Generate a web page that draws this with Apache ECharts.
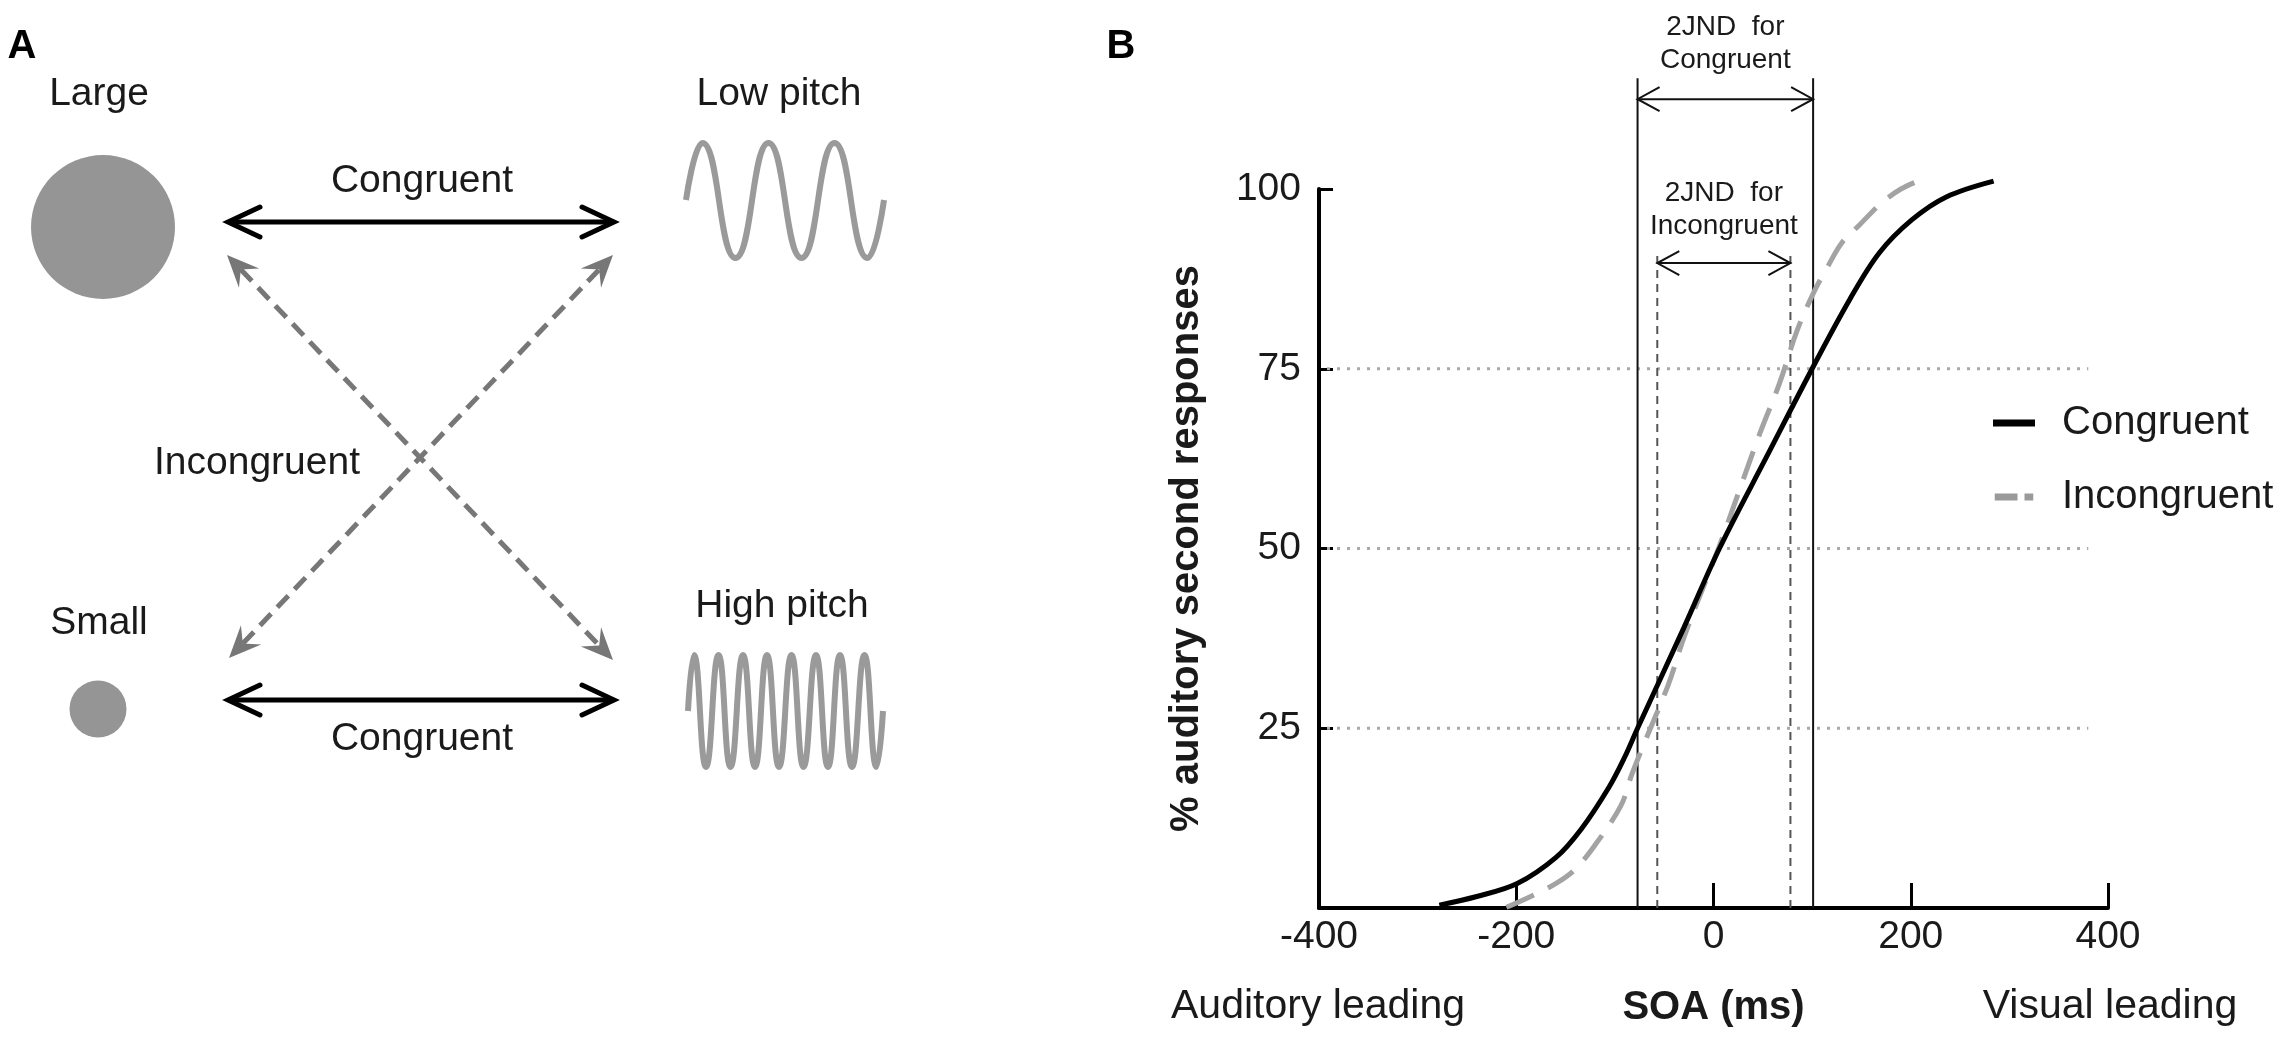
<!DOCTYPE html>
<html>
<head>
<meta charset="utf-8">
<title>Congruent vs incongruent audiovisual pairs</title>
<script src="https://cdn.jsdelivr.net/npm/echarts@6/dist/echarts.min.js"></script>
<style>
  html, body { margin: 0; padding: 0; background: #fff; }
  #chart { width: 2294px; height: 1053px; }
</style>
</head>
<body>
<div id="chart"></div>
<script>
// ---- panel B: psychometric curves (SOA in ms, % auditory-second responses) ----
const soaTicks = [-400, -200, 0, 200, 400];
const pctTicks = [25, 50, 75, 100];

const congruentSOA = [-278, -240, -199, -160, -134, -106, -90, -77, -30, 6, 54, 100, 138, 168, 201, 236, 284];
const congruentPct = [0.4, 1.6, 3.4, 7, 11, 16.8, 21, 25, 39, 50, 62.8, 75, 84.6, 91.1, 95.7, 98.9, 101.1];

const incongruentSOA = [-210, -187, -160, -141, -121, -94, -83, -70, -46, -29, 5, 26, 47, 67, 85, 103, 115, 130, 148, 170, 190, 211];
const incongruentPct = [0.1, 1.5, 3.4, 5.3, 8.6, 14.2, 18.5, 23, 31, 38, 50, 58, 66, 73, 80.4, 86, 89, 92.5, 95, 98, 100, 101.3];

// reference levels (dotted) and where they stop on the SOA axis
const gridLevels = [25, 50, 75];
const gridLineEnd = 380;

// 2JND brackets: 25% and 75% points of each curve
const jndLabels = ['2JND  for\nCongruent', '2JND  for\nIncongruent'];
const jndLeft = [-77, -57];
const jndRight = [101, 78];
const jndArrowAt = [112.5, 89.7];
const jndLineTop = [115.4, 91.5];
const jndTextAt = [120.2, 97.1];

// ---- panel A: schematic (drawn on a hidden 1:1 pixel grid) ----
const diagramLabels = ['Large', 'Low pitch', 'Congruent', 'Incongruent', 'Small', 'High pitch', 'Congruent'];
const diagramLabelX = [99, 779, 422, 257, 99, 782, 422];
const diagramLabelY = [94, 94, 181, 463, 623, 606, 739];

const circles = [[103, 227, 144], [98, 709, 57]];

// [x1, y1, x2, y2, dashed]
const diagramArrows = [
  [228, 222, 614, 222, 0],
  [228, 700, 614, 700, 0],
  [227, 255, 613, 660, 1],
  [229, 658, 613, 255, 1]
];

const lowPitchWave = [
  [686, 200], [702.5, 143], [735.5, 258], [768.5, 143], [801.5, 258],
  [834.5, 143], [867.5, 258], [884, 200]
];
const highPitchWave = [
  [688, 711], [694, 655], [706, 767], [718.5, 655], [730.5, 767], [743, 655], [755, 767],
  [767, 655], [779, 767], [791.5, 655], [803.5, 767], [816, 655], [828, 767],
  [840, 655], [852, 767], [864.5, 655], [876.5, 767], [883, 711]
];

const FONT = "'Liberation Sans', Arial, sans-serif";
const INK = '#1a1a1a';

function unit(a, b) {
  const dx = b[0] - a[0], dy = b[1] - a[1];
  const d = Math.hypot(dx, dy) || 1;
  return [dx / d, dy / d];
}

// three points of an arrow head whose tip is at `tip`, pointing along u
function headPoints(tip, u, len, half) {
  const bx = tip[0] - u[0] * len, by = tip[1] - u[1] * len;
  return [[bx - u[1] * half, by + u[0] * half], tip, [bx + u[1] * half, by - u[0] * half]];
}

function renderDiagramArrow(params, api) {
  const p1 = api.coord([api.value(0), api.value(1)]);
  const p2 = api.coord([api.value(2), api.value(3)]);
  const u = unit(p1, p2);
  const back = [-u[0], -u[1]];
  if (api.value(4) !== 1) {
    const style = { stroke: '#000', lineWidth: 5, fill: null, lineCap: 'round', lineJoin: 'miter' };
    return {
      type: 'group',
      children: [
        { type: 'line', shape: { x1: p1[0] + u[0] * 2, y1: p1[1] + u[1] * 2, x2: p2[0] - u[0] * 2, y2: p2[1] - u[1] * 2 }, style },
        { type: 'polyline', shape: { points: headPoints(p2, u, 32, 15) }, style },
        { type: 'polyline', shape: { points: headPoints(p1, back, 32, 15) }, style }
      ]
    };
  }
  const notch = 20;
  const h2 = headPoints(p2, u, 32, 14);
  const h1 = headPoints(p1, back, 32, 14);
  const n2 = [p2[0] - u[0] * notch, p2[1] - u[1] * notch];
  const n1 = [p1[0] + u[0] * notch, p1[1] + u[1] * notch];
  return {
    type: 'group',
    children: [
      { type: 'line', shape: { x1: n1[0], y1: n1[1], x2: n2[0], y2: n2[1] },
        style: { stroke: '#777', lineWidth: 5, lineDash: [16, 9] } },
      { type: 'polygon', shape: { points: [h2[1], h2[2], n2, h2[0]] }, style: { fill: '#777' } },
      { type: 'polygon', shape: { points: [h1[1], h1[2], n1, h1[0]] }, style: { fill: '#777' } }
    ]
  };
}

function renderDiagramLabel(params, api) {
  const p = api.coord([api.value(0), api.value(1)]);
  return {
    type: 'text', x: p[0], y: p[1],
    style: { text: diagramLabels[params.dataIndex], align: 'center', verticalAlign: 'middle',
      font: '39px ' + FONT, fill: INK }
  };
}

function renderGridLevel(params, api) {
  const a = api.coord([api.value(0), api.value(1)]);
  const b = api.coord([api.value(2), api.value(1)]);
  return {
    type: 'line',
    shape: { x1: a[0] + 8, y1: a[1], x2: b[0], y2: b[1] },
    style: { stroke: '#a9a9a9', lineWidth: 3, lineDash: [3, 7] }
  };
}

function renderJnd(params, api) {
  const xl = api.value(0), xr = api.value(1);
  const ya = api.value(2), yt = api.value(3), ytext = api.value(4);
  const dashed = api.value(5) === 1;
  const l0 = api.coord([xl, 0]), lt = api.coord([xl, yt]);
  const r0 = api.coord([xr, 0]), rt = api.coord([xr, yt]);
  const al = api.coord([xl, ya]), ar = api.coord([xr, ya]);
  const tc = api.coord([(xl + xr) / 2, ytext]);
  const vStyle = dashed
    ? { stroke: '#555', lineWidth: 2, lineDash: [8, 6] }
    : { stroke: '#111', lineWidth: 2 };
  const aStyle = { stroke: '#111', lineWidth: 2, fill: null };
  return {
    type: 'group',
    children: [
      { type: 'line', shape: { x1: l0[0], y1: l0[1], x2: lt[0], y2: lt[1] }, style: vStyle },
      { type: 'line', shape: { x1: r0[0], y1: r0[1], x2: rt[0], y2: rt[1] }, style: vStyle },
      { type: 'line', shape: { x1: al[0], y1: al[1], x2: ar[0], y2: ar[1] }, style: aStyle },
      { type: 'polyline', shape: { points: headPoints(ar, [1, 0], 22, 12) }, style: aStyle },
      { type: 'polyline', shape: { points: headPoints(al, [-1, 0], 22, 12) }, style: aStyle },
      { type: 'text', x: tc[0], y: tc[1],
        style: { text: jndLabels[params.dataIndex], align: 'center', verticalAlign: 'middle',
          font: '28px ' + FONT, fill: INK, lineHeight: 33 } }
    ]
  };
}

const chart = echarts.init(document.getElementById('chart'));

chart.setOption({
  backgroundColor: '#fff',
  animation: false,
  textStyle: { fontFamily: FONT },
  grid: [
    { left: 1319, top: 189, width: 789, height: 719 },
    { left: 0, top: 0, width: 1150, height: 1053 }
  ],
  xAxis: [
    {
      type: 'value', gridIndex: 0, min: soaTicks[0], max: soaTicks[soaTicks.length - 1], interval: 200,
      name: 'SOA (ms)', nameLocation: 'middle', nameGap: 80,
      nameTextStyle: { fontSize: 40, fontWeight: 'bold', color: INK, fontFamily: FONT },
      axisLine: { show: true, onZero: false, lineStyle: { color: '#000', width: 4 } },
      axisTick: { show: true, inside: true, length: 25, lineStyle: { color: '#000', width: 3 } },
      axisLabel: { fontSize: 39, color: INK, margin: 10, fontFamily: FONT },
      splitLine: { show: false }
    },
    { type: 'value', gridIndex: 1, min: 0, max: 1150, show: false }
  ],
  yAxis: [
    {
      type: 'value', gridIndex: 0, min: 0, max: pctTicks[pctTicks.length - 1], interval: 25,
      name: '% auditory second responses', nameLocation: 'middle', nameGap: 112,
      nameTextStyle: { fontSize: 40, fontWeight: 'bold', color: INK, fontFamily: FONT },
      axisLine: { show: true, onZero: false, lineStyle: { color: '#000', width: 4 } },
      axisTick: { show: true, inside: true, length: 14, lineStyle: { color: '#000', width: 3 } },
      axisLabel: {
        fontSize: 39, color: INK, margin: 18, fontFamily: FONT,
        formatter: (v) => (pctTicks.includes(v) ? String(v) : '')
      },
      splitLine: { show: false }
    },
    { type: 'value', gridIndex: 1, min: 0, max: 1053, inverse: true, show: false }
  ],
  legend: {
    data: [
      { name: 'Congruent', icon: 'rect', itemStyle: { color: '#000' } },
      { name: 'Incongruent', icon: 'path://M0,0h26v8h-26z M34,0h10v8h-10z', itemStyle: { color: '#9a9a9a' } }
    ],
    orient: 'vertical',
    left: 1988,
    top: 398,
    itemWidth: 42,
    itemHeight: 7,
    itemGap: 34,
    selectedMode: false,
    textStyle: { fontSize: 40, color: INK, fontFamily: FONT, padding: [0, 0, 0, 22] }
  },
  graphic: [
    { type: 'text', x: 22, y: 47, style: { text: 'A', font: 'bold 40px ' + FONT, fill: '#000', align: 'center', verticalAlign: 'middle' } },
    { type: 'text', x: 1121, y: 47, style: { text: 'B', font: 'bold 40px ' + FONT, fill: '#000', align: 'center', verticalAlign: 'middle' } },
    { type: 'text', x: 1318, y: 1007, style: { text: 'Auditory leading', font: '41px ' + FONT, fill: INK, align: 'center', verticalAlign: 'middle' } },
    { type: 'text', x: 2110, y: 1007, style: { text: 'Visual leading', font: '41px ' + FONT, fill: INK, align: 'center', verticalAlign: 'middle' } }
  ],
  series: [
    {
      type: 'custom', name: 'levels', xAxisIndex: 0, yAxisIndex: 0, z: 1, silent: true,
      renderItem: renderGridLevel,
      encode: { x: [0, 2], y: 1 },
      data: gridLevels.map((v) => [soaTicks[0], v, gridLineEnd])
    },
    {
      type: 'custom', name: 'jnd', xAxisIndex: 0, yAxisIndex: 0, z: 2, silent: true, clip: false,
      renderItem: renderJnd,
      encode: { x: [0, 1], y: [2, 3, 4] },
      data: jndLeft.map((xl, i) => [xl, jndRight[i], jndArrowAt[i], jndLineTop[i], jndTextAt[i], i])
    },
    {
      name: 'Incongruent', type: 'line', xAxisIndex: 0, yAxisIndex: 0, z: 3,
      data: incongruentSOA.map((x, i) => [x, incongruentPct[i]]),
      smooth: 0.35, symbol: 'none', clip: false,
      lineStyle: { color: '#a3a3a3', width: 5, type: [30, 16] },
      itemStyle: { color: '#a3a3a3' }
    },
    {
      name: 'Congruent', type: 'line', xAxisIndex: 0, yAxisIndex: 0, z: 4,
      data: congruentSOA.map((x, i) => [x, congruentPct[i]]),
      smooth: 0.35, symbol: 'none', clip: false,
      lineStyle: { color: '#000', width: 5 },
      itemStyle: { color: '#000' }
    },
    {
      type: 'scatter', name: 'sizes', xAxisIndex: 1, yAxisIndex: 1, silent: true,
      data: circles,
      symbolSize: (d) => d[2],
      itemStyle: { color: '#959595', opacity: 1 }
    },
    {
      type: 'line', name: 'low pitch', xAxisIndex: 1, yAxisIndex: 1, silent: true,
      data: lowPitchWave, smooth: 0.5, symbol: 'none',
      lineStyle: { color: '#9a9a9a', width: 6 }
    },
    {
      type: 'line', name: 'high pitch', xAxisIndex: 1, yAxisIndex: 1, silent: true,
      data: highPitchWave, smooth: 0.5, symbol: 'none',
      lineStyle: { color: '#9a9a9a', width: 6 }
    },
    {
      type: 'custom', name: 'pairings', xAxisIndex: 1, yAxisIndex: 1, silent: true,
      renderItem: renderDiagramArrow,
      encode: { x: [0, 2], y: [1, 3] },
      data: diagramArrows
    },
    {
      type: 'custom', name: 'diagram labels', xAxisIndex: 1, yAxisIndex: 1, silent: true,
      renderItem: renderDiagramLabel,
      encode: { x: 0, y: 1 },
      data: diagramLabelX.map((x, i) => [x, diagramLabelY[i]])
    }
  ]
});

window.addEventListener('resize', () => chart.resize());
</script>
</body>
</html>
